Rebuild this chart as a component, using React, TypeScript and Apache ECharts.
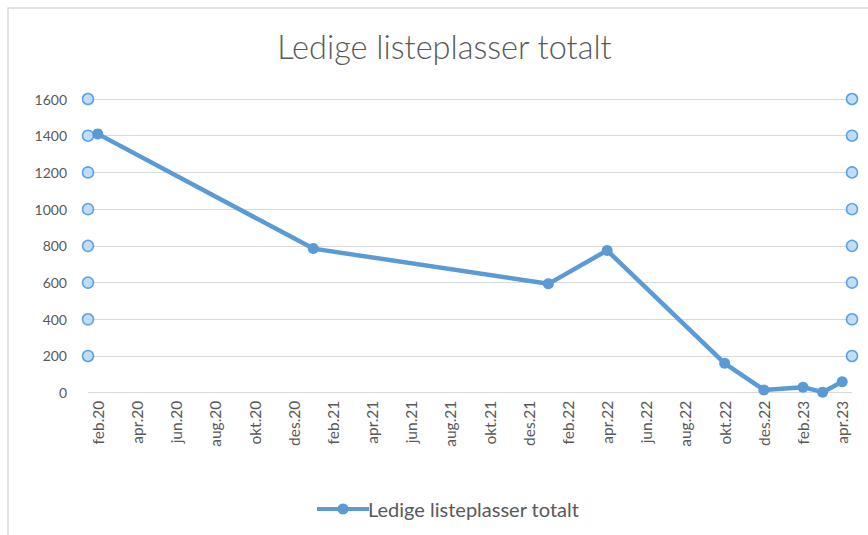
import React, { useEffect, useRef } from "react";
import * as echarts from "echarts";

const TITLE = "Ledige listeplasser totalt";
const SERIES_NAME = "Ledige listeplasser totalt";
const monthNames = ["jan", "feb", "mar", "apr", "mai", "jun", "jul", "aug", "sep", "okt", "nov", "des"];
const years = ["20", "21", "22", "23"];
const firstMonth = "feb.20";
const lastMonth = "apr.23";
const pointDates = ["feb.20", "jan.21", "jan.22", "apr.22", "okt.22", "des.22", "feb.23", "mar.23", "apr.23"];
const pointValues = [1410, 785, 593, 775, 160, 15, 30, 3, 60];
const handleValues = [200, 400, 600, 800, 1000, 1200, 1400, 1600];

const allMonths: string[] = [];
years.forEach((y) => monthNames.forEach((m) => allMonths.push(`${m}.${y}`)));
const categories = allMonths.slice(allMonths.indexOf(firstMonth), allMonths.indexOf(lastMonth) + 1);

export default function App() {
  const ref = useRef<HTMLDivElement>(null);
  useEffect(() => {
    document.body.style.margin = "0";
    const chart = echarts.init(ref.current!, null, { renderer: "svg" });
    const textColor = "#595959";
    const gridColor = "#d9d9d9";
    const font = "Lato, 'Open Sans', sans-serif";
    chart.setOption({
      animation: false,
      backgroundColor: "#ffffff",
      title: {
        text: TITLE,
        left: 444.5,
        textAlign: "center",
        top: 30,
        padding: 0,
        textStyle: { fontFamily: font, fontWeight: 300, fontSize: 32.5, color: textColor },
      },
      legend: {
        data: [SERIES_NAME],
        left: 310,
        top: 494,
        itemWidth: 52,
        itemHeight: 14,
        itemGap: 4,
        lineStyle: { width: 4 },
        textStyle: { fontFamily: font, fontSize: 20, color: textColor, padding: [0, 0, 0, -6] },
      },
      graphic: [
        {
          type: "rect",
          shape: { x: 8, y: 8, width: 900, height: 600 },
          style: { fill: "none", stroke: "#dcdcdc", lineWidth: 1.5 },
          silent: true,
        },
      ],
      grid: { left: 88, right: 16, top: 99, bottom: 142.3, containLabel: false },
      xAxis: [
        {
          type: "category",
          data: categories,
          boundaryGap: true,
          axisLine: { lineStyle: { color: gridColor, width: 1 } },
          axisTick: { interval: 1, length: 7, lineStyle: { color: gridColor } },
          axisLabel: {
            interval: 1,
            rotate: 90,
            margin: 8,
            fontFamily: font,
            fontSize: 15.5,
            color: textColor,
          },
          splitLine: { show: false },
        },
        {
          type: "value",
          min: 0,
          max: 1,
          show: false,
        },
      ],
      yAxis: {
        type: "value",
        min: 0,
        max: 1600,
        interval: 200,
        axisLine: { show: false },
        axisTick: { show: false },
        axisLabel: {
          margin: 21,
          fontFamily: font,
          fontSize: 14,
          color: textColor,
          formatter: (v: number) => String(v),
        },
        splitLine: { lineStyle: { color: gridColor, width: 1 } },
      },
      series: [
        {
          name: SERIES_NAME,
          type: "line",
          xAxisIndex: 0,
          data: pointDates.map((d, i) => [d, pointValues[i]]),
          symbol: "circle",
          symbolSize: 11,
          lineStyle: { color: "#5b9bd5", width: 4.5 },
          itemStyle: { color: "#5b9bd5" },
          z: 2,
        },
        {
          name: "handles",
          type: "scatter",
          xAxisIndex: 1,
          data: [...handleValues.map((v) => [0, v]), ...handleValues.map((v) => [1, v])],
          symbol: "circle",
          symbolSize: 11,
          clip: false,
          itemStyle: { color: "#b3d5f5", borderColor: "#3b8ee0", borderWidth: 1.5 },
          silent: true,
          z: 5,
        },
      ],
    });
    return () => chart.dispose();
  }, []);
  return <div ref={ref} style={{ width: 868, height: 535 }} />;
}
